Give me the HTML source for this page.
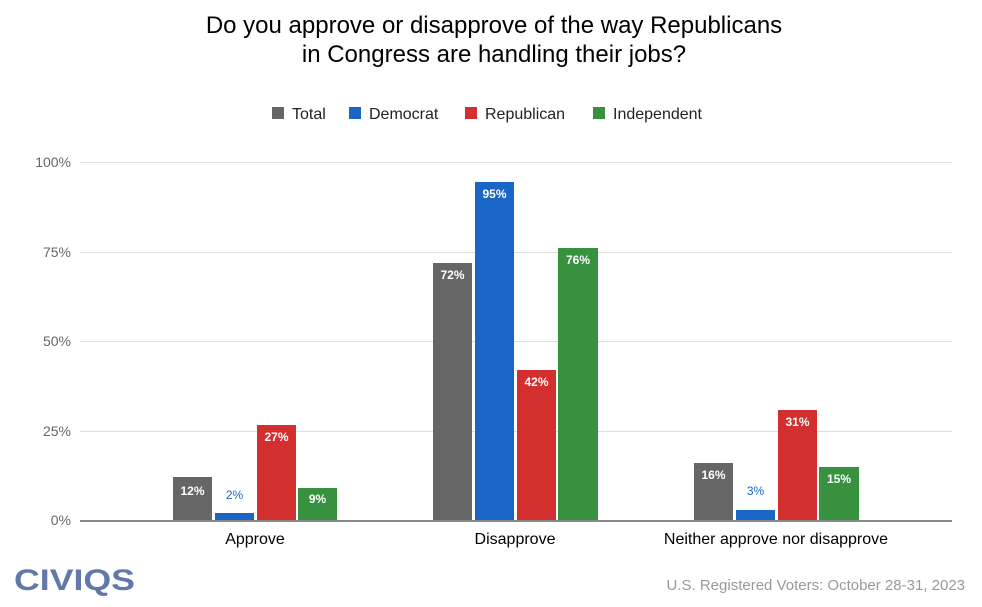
<!DOCTYPE html><html><head><style>body{margin:0;background:#fff}svg{display:block;font-family:"Liberation Sans",Arial,sans-serif}</style></head><body>
<svg width="982" height="607" viewBox="0 0 982 607">
<text x="494" y="33" font-size="24" text-anchor="middle" fill="#000">Do you approve or disapprove of the way Republicans</text>
<text x="494" y="62" font-size="24" text-anchor="middle" fill="#000">in Congress are handling their jobs?</text>
<g font-size="16" fill="#222">
<rect x="272" y="107" width="12" height="12" fill="#666"/><text x="292" y="119">Total</text>
<rect x="349" y="107" width="12" height="12" fill="#1a66c7"/><text x="369" y="119">Democrat</text>
<rect x="465" y="107" width="12" height="12" fill="#d32f2f"/><text x="485" y="119">Republican</text>
<rect x="593" y="107" width="12" height="12" fill="#38913f"/><text x="613" y="119">Independent</text>
</g>
<g stroke="#ddd" stroke-width="1">
<line x1="80" y1="162.5" x2="952" y2="162.5"/><line x1="80" y1="252.5" x2="952" y2="252.5"/><line x1="80" y1="341.5" x2="952" y2="341.5"/><line x1="80" y1="431.5" x2="952" y2="431.5"/>
</g>
<g font-size="14" fill="#666" text-anchor="end">
<text x="71" y="167">100%</text><text x="71" y="257">75%</text><text x="71" y="346">50%</text><text x="71" y="436">25%</text><text x="71" y="525">0%</text>
</g>
<g>
<rect x="173" y="477" width="39" height="44" fill="#666"/>
<rect x="215" y="513" width="39" height="8" fill="#1a66c7"/>
<rect x="257" y="425" width="39" height="96" fill="#d32f2f"/>
<rect x="298" y="488" width="39" height="33" fill="#38913f"/>
<rect x="433" y="263" width="39" height="258" fill="#666"/>
<rect x="475" y="182" width="39" height="339" fill="#1a66c7"/>
<rect x="517" y="370" width="39" height="151" fill="#d32f2f"/>
<rect x="558" y="248" width="40" height="273" fill="#38913f"/>
<rect x="694" y="463" width="39" height="58" fill="#666"/>
<rect x="736" y="510" width="39" height="11" fill="#1a66c7"/>
<rect x="778" y="410" width="39" height="111" fill="#d32f2f"/>
<rect x="819" y="467" width="40" height="54" fill="#38913f"/>
</g>
<g font-size="12" font-weight="bold" fill="#fff" text-anchor="middle">
<text x="192.5" y="495">12%</text><text x="234.5" y="499" fill="#1a66c7" font-weight="normal">2%</text><text x="276.5" y="441">27%</text><text x="317.5" y="503">9%</text>
<text x="452.5" y="279">72%</text><text x="494.5" y="198">95%</text><text x="536.5" y="386">42%</text><text x="578" y="264">76%</text>
<text x="713.5" y="479">16%</text><text x="755.5" y="495" fill="#1a66c7" font-weight="normal">3%</text><text x="797.5" y="426">31%</text><text x="839" y="483">15%</text>
</g>
<line x1="80" y1="521" x2="952" y2="521" stroke="#888" stroke-width="2"/>
<g font-size="16" fill="#000" text-anchor="middle">
<text x="255" y="544">Approve</text><text x="515" y="544">Disapprove</text><text x="776" y="544">Neither approve nor disapprove</text>
</g>
<text x="14" y="590" font-size="30" font-weight="bold" fill="#6278a8" textLength="121" lengthAdjust="spacingAndGlyphs">CIVIQS</text>
<text x="965" y="590" font-size="15" fill="#999" text-anchor="end">U.S. Registered Voters: October 28-31, 2023</text>
</svg></body></html>
